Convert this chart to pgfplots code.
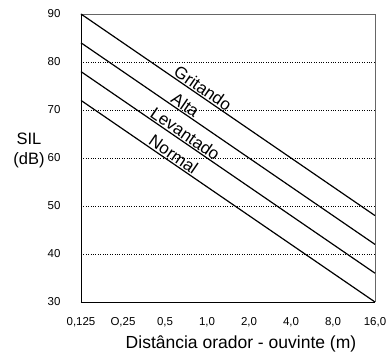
\documentclass[border=0pt]{standalone}
\usepackage{fontspec}
\setmainfont{Liberation Sans}
\usepackage{pgfplots}
\pgfplotsset{compat=1.18}
\begin{document}
\begin{tikzpicture}
\begin{axis}[name=ax, at={(0,0)}, anchor=south west,
  scale only axis, width=294pt, height=288pt,
  xmode=log, log basis x=2,
  xmin=0.125, xmax=16, ymin=30, ymax=90,
  xtick={0.125,0.25,0.5,1,2,4,8,16},
  xticklabels={{0,125},{O,25},{0,5},{1,0},{2,0},{4,0},{8,0},{16,0}},
  ytick={30,40,50,60,70,80,90},
  major tick length=0,
  axis x line*=bottom, axis y line*=left,
  axis line style={black, line width=0.8pt, -},
  ymajorgrids, grid style={black, dotted, line width=0.6pt},
  tick label style={font=\fontsize{11.5}{13}\selectfont},
  /pgf/number format/assume math mode=true,
  xticklabel style={yshift=-12pt},
  yticklabel style={xshift=-17pt},
  xlabel={Distância orador - ouvinte (m)},
  xlabel style={font=\fontsize{17.5}{20}\selectfont, at={(rel axis cs:0.5,0)}, anchor=base, yshift=-46pt, xshift=13pt},
  ylabel={SIL\\(dB)},
  ylabel style={font=\fontsize{16.5}{20}\selectfont, rotate=-90, align=center, at={(rel axis cs:0,0.5)}, anchor=center, xshift=-52pt, yshift=8pt},
  clip=false,
]
\draw[black!60, line width=0.8pt] (rel axis cs:0,1) -- (rel axis cs:1,1) -- (rel axis cs:1,0);
\addplot[black, line width=1.2pt] coordinates {(0.125,90) (16,48)}
  node[pos=0.40, sloped, anchor=south, inner sep=1pt, font=\fontsize{17}{20}\selectfont] {Gritando};
\addplot[black, line width=1.2pt] coordinates {(0.125,84) (16,42)}
  node[pos=0.34, sloped, anchor=south, inner sep=1pt, font=\fontsize{17}{20}\selectfont] {Alta};
\addplot[black, line width=1.2pt] coordinates {(0.125,78) (16,36)}
  node[pos=0.34, sloped, anchor=south, inner sep=1pt, font=\fontsize{17}{20}\selectfont] {Levantado};
\addplot[black, line width=1.2pt] coordinates {(0.125,72) (16,30)}
  node[pos=0.30, sloped, anchor=south, inner sep=1pt, font=\fontsize{17}{20}\selectfont] {Normal};
\end{axis}
\pgfresetboundingbox
\path[use as bounding box] ([shift={(-81pt,-49pt)}]ax.south west) rectangle ([shift={(15pt,14pt)}]ax.north east);
\end{tikzpicture}
\end{document}
